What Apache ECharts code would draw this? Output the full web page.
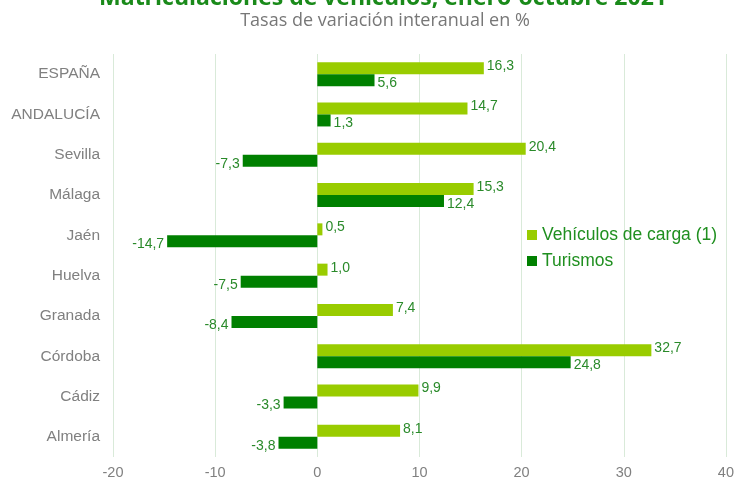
<!DOCTYPE html>
<html>
<head>
<meta charset="utf-8">
<script src="https://cdn.jsdelivr.net/npm/echarts@6/dist/echarts.min.js"></script>
<style>
  html, body { margin: 0; padding: 0; background: #fff; }
  #chart { width: 737px; height: 483px; }
</style>
</head>
<body>
<div id="chart"></div>
<script>
var categories = ["ESPAÑA", "ANDALUCÍA", "Sevilla", "Málaga", "Jaén", "Huelva", "Granada", "Córdoba", "Cádiz", "Almería"];
var carga = [16.3, 14.7, 20.4, 15.3, 0.5, 1.0, 7.4, 32.7, 9.9, 8.1];
var turismos = [5.6, 1.3, -7.3, 12.4, -14.7, -7.5, -8.4, 24.8, -3.3, -3.8];
var seriesNames = ["Vehículos de carga (1)", "Turismos"];

var labelColor = "#2a8a2a";

function fmt(v) {
  return v.toFixed(1).replace(".", ",");
}

function withLabels(arr, dy) {
  return arr.map(function (v) {
    return {
      value: v,
      label: {
        show: true,
        position: v < 0 ? "left" : "right",
        distance: 3,
        offset: [0, dy],
        color: labelColor,
        fontSize: 14,
        fontFamily: "Liberation Sans",
        formatter: function (p) { return fmt(p.value); }
      }
    };
  });
}

var chart = echarts.init(document.getElementById("chart"));
chart.setOption({
  animation: false,
  title: [{
    text: "Matriculaciones de vehículos, enero-octubre 2021",
    left: 378,
    top: -18,
    textAlign: "center",
    textStyle: { color: "#1a8a1a", fontSize: 23, fontWeight: "bold", fontFamily: "Open Sans" }
  }, {
    text: "Tasas de variación interanual en %",
    left: 380,
    top: 7,
    textAlign: "center",
    textStyle: { color: "#777777", fontSize: 18, fontWeight: "normal", fontFamily: "Open Sans" }
  }],
  legend: {
    orient: "vertical",
    left: 522,
    top: 221,
    itemWidth: 10,
    itemHeight: 10,
    itemGap: 8,
    icon: "rect",
    data: seriesNames,
    textStyle: { color: "#1f8f1f", fontSize: 17.5, fontFamily: "Liberation Sans" }
  },
  grid: { left: 113, right: 9, top: 54, bottom: 26, containLabel: false },
  xAxis: {
    type: "value",
    min: -20,
    max: 40,
    interval: 10,
    axisLine: { show: false },
    axisTick: { show: false },
    splitLine: { lineStyle: { color: "#d9ead9", width: 1 } },
    axisLabel: { color: "#808080", fontSize: 14.5, fontFamily: "Liberation Sans", margin: 8 }
  },
  yAxis: {
    type: "category",
    inverse: true,
    data: categories,
    axisLine: { show: false, onZero: false },
    axisTick: { show: false },
    axisLabel: { color: "#808080", fontSize: 15.5, fontFamily: "Liberation Sans", margin: 13 }
  },
  series: [{
    name: seriesNames[0],
    type: "bar",
    barWidth: 12,
    barGap: "0%",
    itemStyle: { color: "#99cc00" },
    data: withLabels(carga, -2)
  }, {
    name: seriesNames[1],
    type: "bar",
    barWidth: 12,
    barGap: "0%",
    itemStyle: { color: "#008000" },
    data: withLabels(turismos, 3)
  }]
});
</script>
</body>
</html>
